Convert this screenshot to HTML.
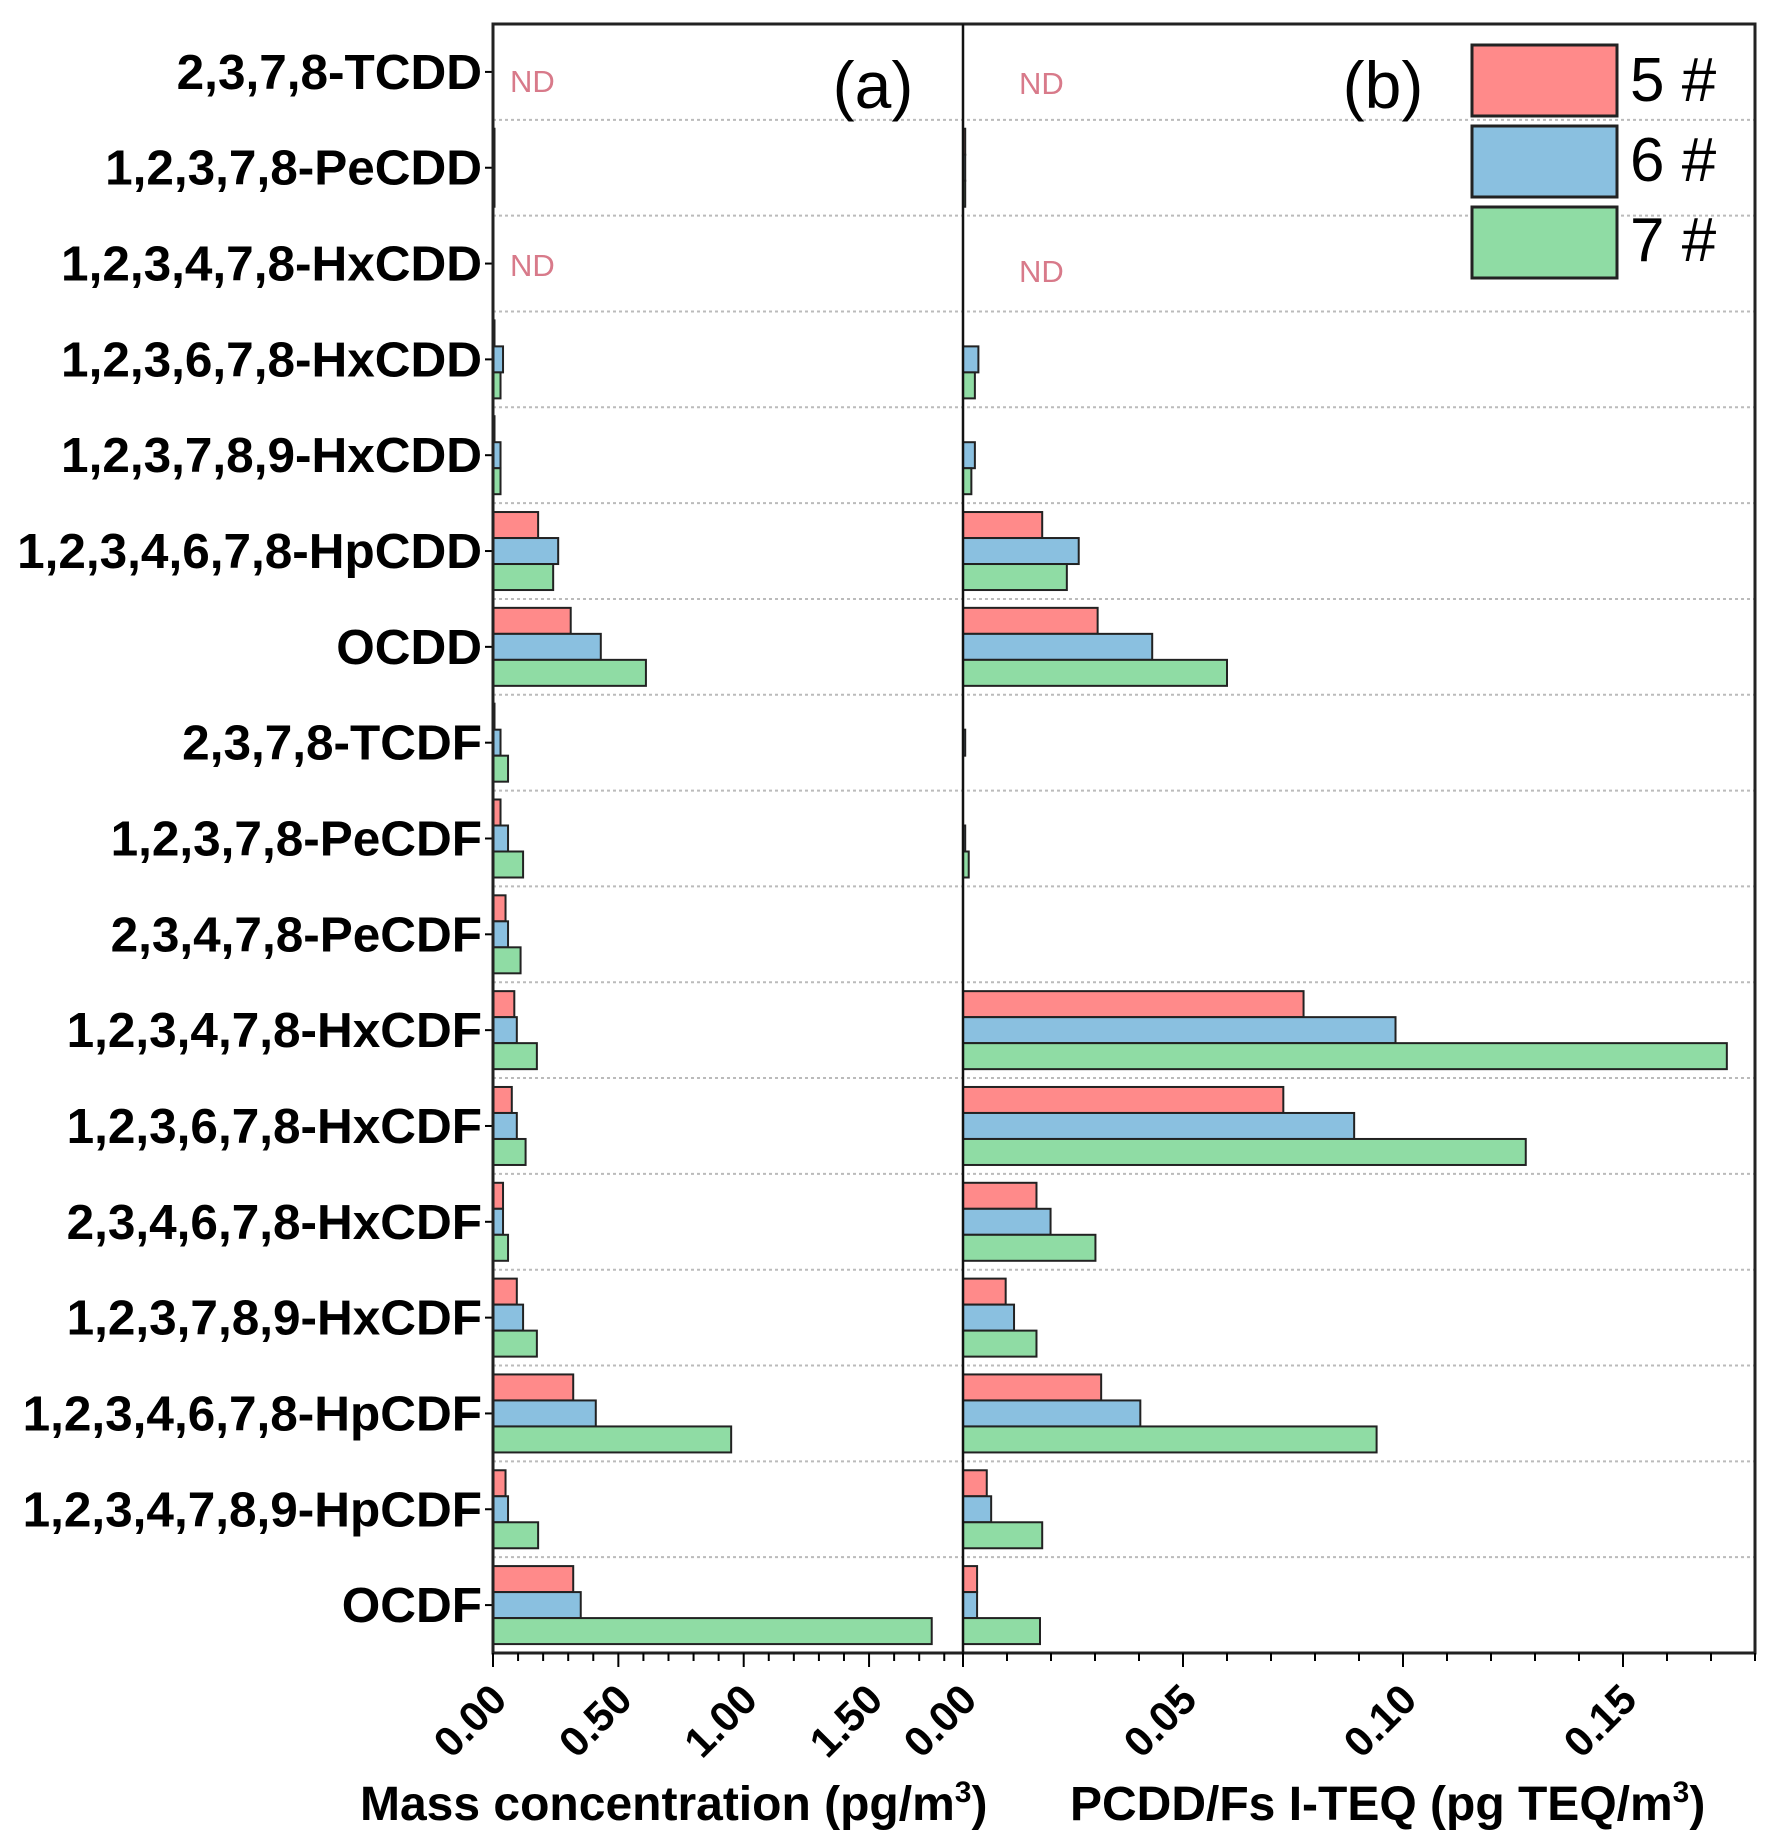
<!DOCTYPE html>
<html><head><meta charset="utf-8"><style>html,body{margin:0;padding:0;background:#fff}svg{display:block}text{font-family:"Liberation Sans",Arial,sans-serif}</style></head>
<body>
<svg id="chart" width="1777" height="1837" viewBox="0 0 1777 1837" xmlns="http://www.w3.org/2000/svg"></svg>
<script>
const categories = ["2,3,7,8-TCDD","1,2,3,7,8-PeCDD","1,2,3,4,7,8-HxCDD","1,2,3,6,7,8-HxCDD","1,2,3,7,8,9-HxCDD","1,2,3,4,6,7,8-HpCDD","OCDD","2,3,7,8-TCDF","1,2,3,7,8-PeCDF","2,3,4,7,8-PeCDF","1,2,3,4,7,8-HxCDF","1,2,3,6,7,8-HxCDF","2,3,4,6,7,8-HxCDF","1,2,3,7,8,9-HxCDF","1,2,3,4,6,7,8-HpCDF","1,2,3,4,7,8,9-HpCDF","OCDF"];
const seriesNames = ["5 #","6 #","7 #"];
const massS5 = [0,0.003,0,0.005,0.005,0.18,0.31,0.005,0.03,0.05,0.085,0.075,0.04,0.095,0.32,0.05,0.32];
const massS6 = [0,0.003,0,0.04,0.03,0.26,0.43,0.03,0.06,0.06,0.095,0.095,0.04,0.12,0.41,0.06,0.35];
const massS7 = [0,0.003,0,0.03,0.03,0.24,0.61,0.06,0.12,0.11,0.175,0.13,0.06,0.175,0.95,0.18,1.75];
const teqS5 = [0,0.0005,0,0,0,0.018,0.0306,0,0,0,0.0774,0.0728,0.0167,0.0097,0.0314,0.0054,0.0032];
const teqS6 = [0,0.0005,0,0.0035,0.0027,0.0263,0.043,0.0005,0.0005,0,0.0983,0.0889,0.0199,0.0116,0.0403,0.0064,0.0032];
const teqS7 = [0,0.0005,0,0.0027,0.0019,0.0236,0.060,0,0.0013,0,0.1736,0.1279,0.0301,0.0167,0.094,0.018,0.0175];
const massTicks = ["0.00","0.50","1.00","1.50"];
const teqTicks = ["0.00","0.05","0.10","0.15"];

const NS="http://www.w3.org/2000/svg";
const svg=document.getElementById('chart');
function mk(tag,attrs,parent){const e=document.createElementNS(NS,tag);for(const k in attrs)e.setAttribute(k,attrs[k]);(parent||svg).appendChild(e);return e;}
const TOP=24,BOT=1653,L=493,MID=963,R=1755;
const rowH=(BOT-TOP)/categories.length;
const xMass=v=>L+v*250.7;
const xTeq=v=>MID+v*4400;
const colors=["#ff8a8a","#8ac0e0","#8fdca4"];

for(let i=1;i<categories.length;i++){
  const g=mk('line',{x1:L,x2:R,y1:TOP+i*rowH,y2:TOP+i*rowH,stroke:'#bbb','stroke-width':2,'stroke-dasharray':'3,3'});
  
  
}
const massSets=[massS5,massS6,massS7], teqSets=[teqS5,teqS6,teqS7];
categories.forEach((c,i)=>{
  const cy=TOP+(i+0.5)*rowH;
  for(let s=0;s<3;s++){
    const y=cy-39+s*26;
    const vm=massSets[s][i];
    if(vm>0){const b=mk('rect',{x:xMass(0),y:y,width:Math.max(xMass(vm)-xMass(0),1.5),height:26,fill:colors[s],stroke:'#222','stroke-width':2});
      
      }
    const vt=teqSets[s][i];
    if(vt>0){const b=mk('rect',{x:xTeq(0),y:y,width:Math.max(xTeq(vt)-xTeq(0),1.5),height:26,fill:colors[s],stroke:'#222','stroke-width':2});
      
      }
  }
  const t=mk('text',{x:482,y:cy+17,'text-anchor':'end','font-size':49.5,'font-weight':'bold',fill:'#000'});
  t.textContent=c;
  
  
  mk('line',{x1:L-8,x2:L,y1:cy,y2:cy,stroke:'#000','stroke-width':2});
});
const fr=mk('rect',{x:L,y:TOP,width:R-L,height:BOT-TOP,fill:'none',stroke:'#222','stroke-width':3});


mk('line',{x1:MID,x2:MID,y1:TOP,y2:BOT,stroke:'#111','stroke-width':2.5});
for(let k=0;k<=18;k++){const v=k*0.1;if(xMass(v)>MID-2)break;const x=xMass(v);mk('line',{x1:x,x2:x,y1:BOT,y2:BOT+(k%5==0?14:8),stroke:'#000','stroke-width':2});}
for(let k=0;k<=18;k++){const v=k*0.01;const x=xTeq(v);if(x>R+1)break;mk('line',{x1:x,x2:x,y1:BOT,y2:BOT+(k%5==0?14:8),stroke:'#000','stroke-width':2});}
massTicks.forEach((t,i)=>{const x=xMass(parseFloat(t));const e=mk('text',{x:x+16,y:1702,'text-anchor':'end','font-size':42,'font-weight':'bold',transform:`rotate(-45 ${x+16} 1702)`});e.textContent=t;
  
  });
teqTicks.forEach((t,i)=>{const x=xTeq(parseFloat(t));const e=mk('text',{x:x+16,y:1702,'text-anchor':'end','font-size':42,'font-weight':'bold',transform:`rotate(-45 ${x+16} 1702)`});e.textContent=t;
  
  });
</script>
<script>
const s2=document.getElementById('chart');
s2.insertAdjacentHTML('beforeend',`
<text x="360" y="1820" font-size="48" font-weight="bold">Mass concentration (pg/m<tspan dy="-18" font-size="30">3</tspan><tspan dy="18">)</tspan></text>
<text x="1070" y="1820" font-size="48" font-weight="bold">PCDD/Fs I-TEQ (pg TEQ/m<tspan dy="-18" font-size="30">3</tspan><tspan dy="18">)</tspan></text>
<text x="873" y="108" font-size="66" text-anchor="middle">(a)</text>
<text x="1383" y="108" font-size="66" text-anchor="middle">(b)</text>
<text x="510" y="92" font-size="31" fill="#d87a8a">ND</text>
<text x="510" y="276" font-size="31" fill="#d87a8a">ND</text>
<text x="1019" y="94" font-size="31" fill="#d87a8a">ND</text>
<text x="1019" y="282" font-size="31" fill="#d87a8a">ND</text>
<g>
<rect x="1472" y="45" width="145" height="71" fill="#ff8a8a" stroke="#222" stroke-width="3"/>
<rect x="1472" y="126" width="145" height="71" fill="#8ac0e0" stroke="#222" stroke-width="3"/>
<rect x="1472" y="207" width="145" height="71" fill="#8fdca4" stroke="#222" stroke-width="3"/>
<text x="1630" y="101" font-size="62">5 #</text>
<text x="1630" y="181" font-size="62">6 #</text>
<text x="1630" y="261" font-size="62">7 #</text>
</g>`);
</script>
</body></html>
